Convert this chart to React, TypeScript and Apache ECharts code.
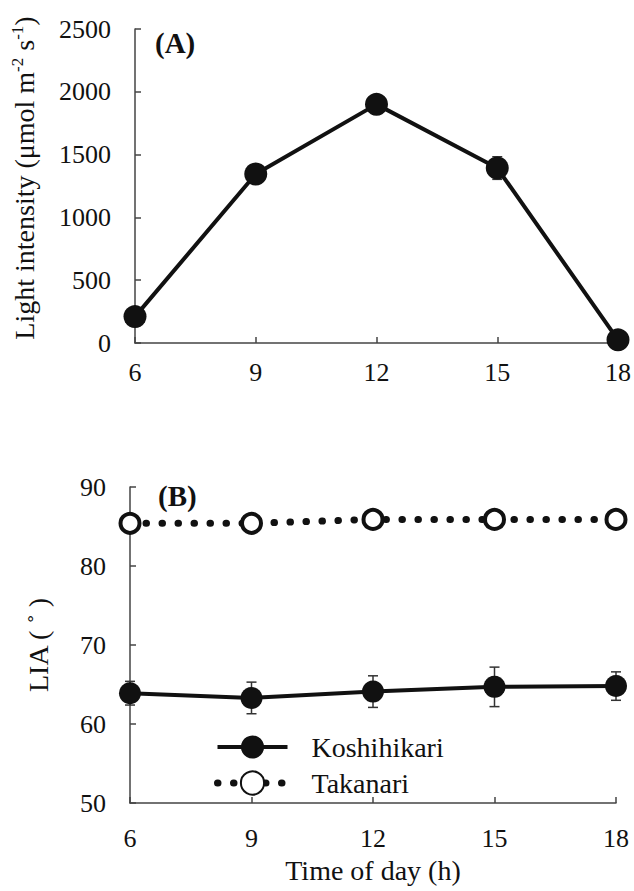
import React, { useEffect, useRef } from "react";
import * as echarts from "echarts";

const hours = [6, 9, 12, 15, 18];
const lightValues = [210, 1345, 1900, 1393, 25];
const lightErrors = [0, 0, 0, 90, 0];
const koshiValues = [63.9, 63.3, 64.1, 64.7, 64.8];
const koshiErrors = [1.5, 2.0, 2.0, 2.5, 1.8];
const takaValues = [85.4, 85.4, 85.9, 85.9, 85.9];
const lightTicks = [0, 500, 1000, 1500, 2000, 2500];
const liaTicks = [50, 60, 70, 80, 90];

const FONT = "Liberation Serif";
const INK = "#111";
const AXIS = "#444";

function errorBarItem(params: any, api: any) {
  const x = api.value(0);
  const y = api.value(1);
  const e = api.value(2);
  if (!e) return null;
  const top = api.coord([x, y + e]);
  const bot = api.coord([x, y - e]);
  const hw = 5;
  const st = { stroke: "#333", lineWidth: 1.5 };
  return {
    type: "group",
    children: [
      { type: "line", shape: { x1: top[0], y1: top[1], x2: bot[0], y2: bot[1] }, style: st },
      { type: "line", shape: { x1: top[0] - hw, y1: top[1], x2: top[0] + hw, y2: top[1] }, style: st },
      { type: "line", shape: { x1: bot[0] - hw, y1: bot[1], x2: bot[0] + hw, y2: bot[1] }, style: st },
    ],
  };
}

export default function App() {
  const ref = useRef<HTMLDivElement>(null);
  useEffect(() => {
    if (!ref.current) return;
    const chart = echarts.init(ref.current, null, { renderer: "svg" });

    const axisCommon = {
      axisLine: { show: true, onZero: false, lineStyle: { color: AXIS, width: 1.5 } },
      axisTick: { show: true, inside: true, length: 6, lineStyle: { color: AXIS, width: 1.5 } },
      splitLine: { show: false },
      axisLabel: { fontFamily: FONT, fontSize: 26, color: INK, formatter: (v: number) => String(v) },
    };

    const xCommon = (gridIndex: number, margin: number) => ({
      ...axisCommon,
      type: "value",
      gridIndex,
      min: hours[0],
      max: hours[hours.length - 1],
      interval: 3,
      axisLabel: { ...axisCommon.axisLabel, margin },
    });

    const option: any = {
      animation: false,
      backgroundColor: "#fff",
      textStyle: { fontFamily: FONT },
      grid: [
        { left: 135, top: 29, width: 485, height: 314 },
        { left: 130, top: 487, width: 486, height: 316 },
      ],
      xAxis: [
        xCommon(0, 16),
        {
          ...xCommon(1, 22),
          name: "Time of day (h)",
          nameLocation: "middle",
          nameGap: 53,
          nameTextStyle: { fontFamily: FONT, fontSize: 28, color: INK },
        },
      ],
      yAxis: [
        {
          ...axisCommon,
          type: "value",
          gridIndex: 0,
          min: lightTicks[0],
          max: lightTicks[lightTicks.length - 1],
          interval: lightTicks[1] - lightTicks[0],
          axisLabel: { ...axisCommon.axisLabel, margin: 24 },
          name: "{a|Light intensity (μmol m}{s|-2}{a| s}{s|-1}{a|)}",
          nameLocation: "middle",
          nameGap: 96,
          nameTextStyle: {
            padding: [0, 0, 0, 16],
            rich: {
              a: { fontFamily: FONT, fontSize: 28, color: INK, lineHeight: 30 },
              s: { fontFamily: FONT, fontSize: 17, color: INK, lineHeight: 17, verticalAlign: "top" },
            },
          },
        },
        {
          ...axisCommon,
          type: "value",
          gridIndex: 1,
          min: liaTicks[0],
          max: liaTicks[liaTicks.length - 1],
          interval: liaTicks[1] - liaTicks[0],
          axisLabel: { ...axisCommon.axisLabel, margin: 24 },
          name: "LIA ( ˚ )",
          nameLocation: "middle",
          nameGap: 78,
          nameTextStyle: { fontFamily: FONT, fontSize: 28, color: INK },
        },
      ],
      legend: {
        orient: "vertical",
        left: 209,
        top: 728,
        itemWidth: 70,
        itemHeight: 29,
        itemGap: 8,
        data: ["Koshihikari", "Takanari"],
        lineStyle: { width: "inherit" },
        textStyle: { fontFamily: FONT, fontSize: 28, color: INK, padding: [0, 0, 0, 19] },
      },
      graphic: [
        { type: "text", left: 155, top: 28, style: { text: "(A)", font: `bold 29px ${FONT}`, fill: INK } },
        { type: "text", left: 158, top: 481, style: { text: "(B)", font: `bold 29px ${FONT}`, fill: INK } },
      ],
      series: [
        {
          type: "custom",
          xAxisIndex: 0,
          yAxisIndex: 0,
          z: 1,
          renderItem: errorBarItem,
          data: hours.map((h, i) => [h, lightValues[i], lightErrors[i]]),
        },
        {
          name: "Light",
          type: "line",
          xAxisIndex: 0,
          yAxisIndex: 0,
          z: 3,
          symbol: "circle",
          symbolSize: 23,
          itemStyle: { color: INK },
          lineStyle: { color: INK, width: 4 },
          data: hours.map((h, i) => [h, lightValues[i]]),
        },
        {
          type: "custom",
          xAxisIndex: 1,
          yAxisIndex: 1,
          z: 1,
          renderItem: errorBarItem,
          data: hours.map((h, i) => [h, koshiValues[i], koshiErrors[i]]),
        },
        {
          name: "Koshihikari",
          type: "line",
          xAxisIndex: 1,
          yAxisIndex: 1,
          z: 3,
          symbol: "circle",
          symbolSize: 22,
          itemStyle: { color: INK },
          lineStyle: { color: INK, width: 4 },
          data: hours.map((h, i) => [h, koshiValues[i]]),
        },
        {
          name: "Takanari",
          type: "line",
          xAxisIndex: 1,
          yAxisIndex: 1,
          z: 3,
          symbol: "circle",
          symbolSize: 19,
          itemStyle: { color: "#fff", borderColor: INK, borderWidth: 4 },
          lineStyle: { color: INK, width: 7, type: [0.5, 15.5], cap: "round" },
          data: hours.map((h, i) => [h, takaValues[i]]),
        },
      ],
    };

    chart.setOption(option);
    return () => chart.dispose();
  }, []);

  return (
    <div
      ref={ref}
      style={{ position: "fixed", left: 0, top: 0, width: 634, height: 891, background: "#fff" }}
    />
  );
}
